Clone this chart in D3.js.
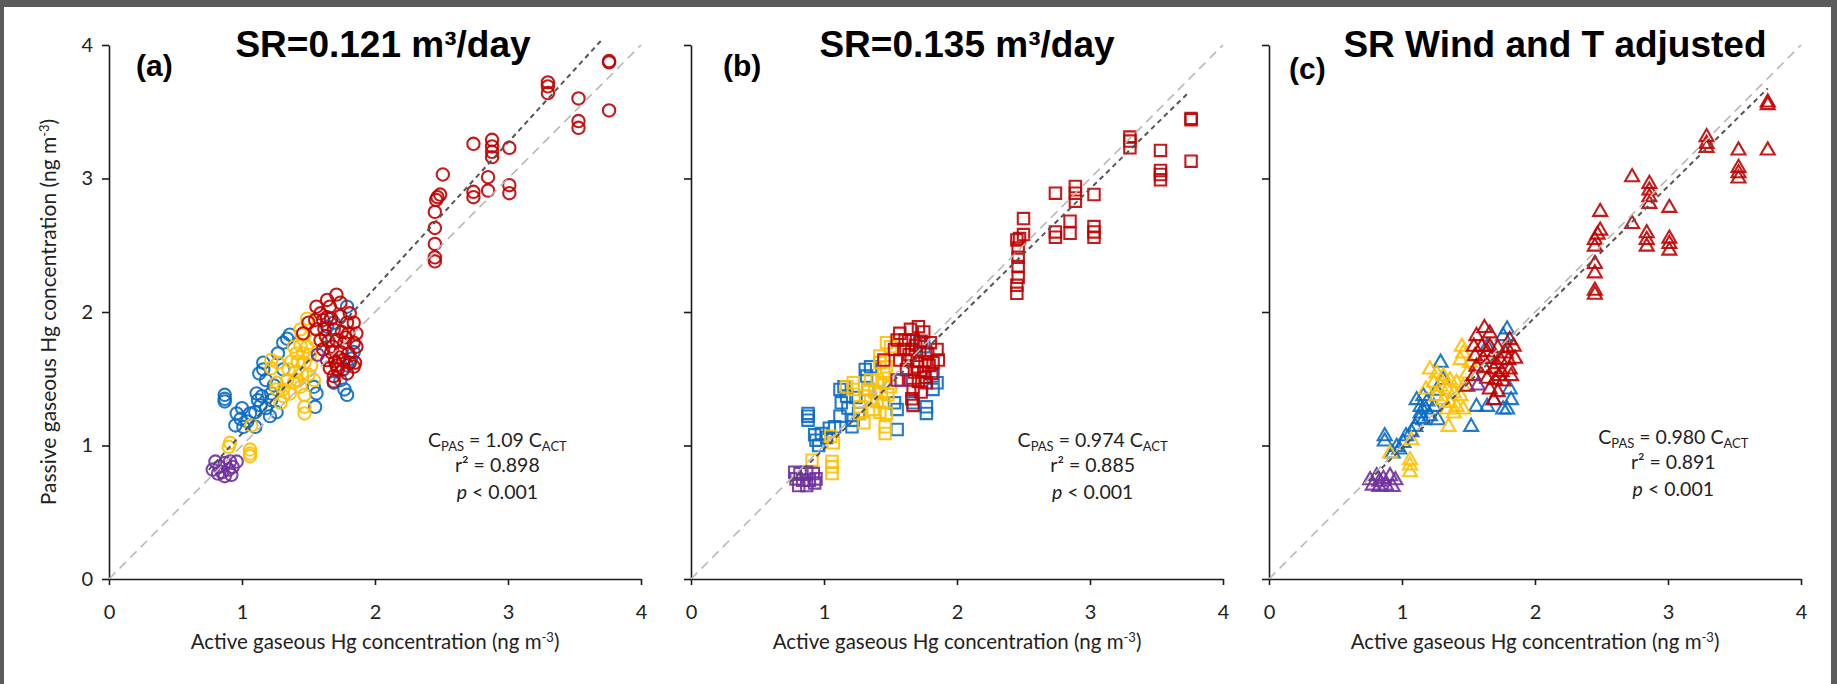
<!DOCTYPE html>
<head>
    <meta charset='utf-8'>
    <style>
        body {
            margin: 0;
            background: #5b5b5b;
        }
        svg { display: block; }
        .axis path, .axis line {
            stroke: #1a1a1a;
            stroke-width: 1.6px;
        }
        .axis text {
            font-family: Lato, sans-serif;
            font-size: 20px;
            fill: #222;
        }
        .ax-title, .note {
            font-family: Lato, sans-serif;
            fill: #222;
        }
        .ax-title { font-size: 20.5px; }
        .note { font-size: 19.5px; }
        .title, .label {
            font-family: 'Liberation Sans', Arial, sans-serif;
            font-weight: bold;
            fill: #000;
        }
        .title { font-size: 37px; }
        .label { font-size: 30px; }
    </style>
</head>

<body>
<div id='vis'></div>
<script src='https://cdn.jsdelivr.net/npm/d3@7/dist/d3.min.js'></script>
<script>
  const tickVals = [0, 1, 2, 3, 4]
  const panelLabels = ['(a)', '(b)', '(c)']
  const panelTitles = ['SR=0.121 m³/day', 'SR=0.135 m³/day', 'SR Wind and T adjusted']
  const fitSlopes = [1.09, 0.974, 0.980]
  const fitFrom = [0.75, 0.75, 0.75]
  const fitTo = [3.70, 3.74, 3.75]
  const slopeText = ['1.09', '0.974', '0.980']
  const r2Text = ['0.898', '0.885', '0.891']
  const pText = '0.001'
  const xTitle = 'Active gaseous Hg concentration (ng m'
  const yTitle = 'Passive gaseous Hg concentration (ng m'

  // panel (a), SR = 0.121
  const aBlue = [[0.87,1.38],[0.87,1.35],[0.87,1.33],[0.96,1.24],[1.00,1.28],[0.99,1.20],[0.95,1.15],[1.01,1.14],
    [1.06,1.24],[1.10,1.25],[1.12,1.34],[1.11,1.39],[1.15,1.37],[1.16,1.62],[1.16,1.57],[1.22,1.39],[1.22,1.34],
    [1.18,1.28],[1.10,1.14],[1.27,1.69],[1.31,1.77],[1.34,1.80],[1.36,1.83],[1.31,1.57],[1.18,1.49],[1.13,1.54],
    [1.54,1.44],[1.56,1.39],[1.55,1.29],[1.77,1.42],[1.79,1.38],[1.69,1.47],[1.74,1.49],[1.79,1.60],[1.84,1.70],
    [1.79,2.04],[1.69,1.92],[1.64,1.89],[1.82,1.65],[1.26,1.25],[1.21,1.22],[1.04,1.18],[1.14,1.30],[1.24,1.45]]
  const aYellow = [[0.91,1.02],[0.90,0.99],[1.06,0.97],[1.06,0.92],[1.06,0.94],[1.07,1.15],[1.22,1.64],[1.22,1.58],
    [1.27,1.62],[1.26,1.47],[1.26,1.42],[1.29,1.32],[1.31,1.37],[1.47,1.38],[1.47,1.29],[1.47,1.24],[1.49,1.95],
    [1.45,1.83],[1.39,1.74],[1.44,1.75],[1.49,1.74],[1.41,1.69],[1.46,1.69],[1.51,1.68],[1.37,1.63],[1.42,1.63],
    [1.47,1.62],[1.52,1.60],[1.35,1.57],[1.40,1.55],[1.45,1.54],[1.50,1.53],[1.34,1.49],[1.39,1.47],[1.44,1.44],
    [1.31,1.42],[1.36,1.39],[1.41,1.49],[1.54,1.49],[1.44,1.87],[1.55,1.79]]
  const aRed = [[1.71,2.13],[1.64,2.09],[1.56,2.04],[1.59,1.99],[1.66,2.04],[1.74,2.07],[1.81,1.99],[1.84,1.92],
    [1.86,1.84],[1.84,1.77],[1.81,1.62],[1.76,1.57],[1.69,1.52],[1.69,1.48],[1.46,1.84],[1.50,1.92],[1.55,1.94],
    [1.61,1.94],[1.67,1.95],[1.74,1.97],[1.79,1.92],[1.56,1.87],[1.62,1.87],[1.69,1.87],[1.75,1.85],[1.80,1.84],
    [1.59,1.79],[1.65,1.78],[1.71,1.79],[1.77,1.77],[1.61,1.72],[1.67,1.70],[1.74,1.70],[1.80,1.69],[1.64,1.64],
    [1.70,1.63],[1.76,1.64],[1.66,1.58],[1.72,1.57],[1.79,1.54],[1.84,1.59],[1.86,1.74],[1.85,1.62],
    [1.63,1.82],[1.68,1.74],[1.73,1.66],[1.78,1.81],[1.64,1.96],[1.71,1.60],
    [2.45,2.38],[2.45,2.41],[2.45,2.51],[2.45,2.63],[2.45,2.75],[2.46,2.84],[2.47,2.86],[2.49,2.88],[2.51,3.03],
    [2.74,2.86],[2.74,2.90],[2.74,3.26],[2.85,2.91],[2.85,3.01],[2.88,3.16],[2.88,3.20],[2.88,3.24],[2.88,3.29],
    [3.01,2.89],[3.01,2.95],[3.01,3.23],[3.30,3.64],[3.30,3.69],[3.30,3.72],[3.53,3.38],[3.53,3.43],[3.53,3.60],
    [3.76,3.51],[3.76,3.87],[3.76,3.88]]
  const aPurple = [[0.80,0.88],[0.83,0.84],[0.87,0.87],[0.91,0.88],[0.93,0.84],[0.82,0.79],[0.87,0.77],[0.92,0.78],
    [0.78,0.82],[0.90,0.82],[0.85,0.80],[0.96,0.88],[1.57,1.68]]

  // panel (b), SR = 0.135
  const bBlue = [[0.88,1.24],[0.88,1.22],[0.88,1.19],[0.94,1.04],[0.96,1.00],[0.98,1.09],[0.93,1.08],[1.04,1.13],
    [1.08,1.14],[1.13,1.32],[1.15,1.44],[1.12,1.22],[1.21,1.14],[1.26,1.24],[1.31,1.57],[1.32,1.52],[1.33,1.42],
    [1.17,1.37],[1.22,1.19],[1.53,1.32],[1.55,1.27],[1.55,1.12],[1.67,1.32],[1.77,1.29],[1.77,1.24],[1.82,1.42],
    [1.82,1.52],[1.85,1.47],[1.75,1.74],[1.72,1.77],[1.35,1.59],[1.12,1.42],[1.02,1.06],[1.18,1.28],[1.24,1.36]]
  const bYellow = [[0.91,0.89],[1.06,0.88],[1.06,0.84],[1.06,0.79],[1.07,1.02],[1.05,1.07],[1.22,1.47],[1.22,1.42],
    [1.27,1.29],[1.30,1.17],[1.42,1.62],[1.45,1.54],[1.47,1.77],[1.50,1.74],[1.46,1.09],[1.46,1.14],[1.35,1.49],
    [1.40,1.49],[1.45,1.47],[1.50,1.44],[1.33,1.42],[1.38,1.40],[1.43,1.39],[1.48,1.38],[1.35,1.34],[1.40,1.33],
    [1.45,1.32],[1.37,1.27],[1.42,1.25],[1.47,1.24],[1.31,1.37],[1.27,1.24],[1.42,1.67],[1.47,1.59],[1.17,1.44]]
  const bRed = [[1.71,1.89],[1.57,1.84],[1.65,1.87],[1.75,1.85],[1.45,1.64],[1.67,1.30],[1.55,1.79],[1.61,1.79],
    [1.67,1.79],[1.73,1.78],[1.80,1.77],[1.85,1.72],[1.53,1.72],[1.60,1.72],[1.66,1.72],[1.72,1.70],[1.78,1.69],
    [1.57,1.64],[1.63,1.64],[1.70,1.63],[1.76,1.63],[1.82,1.62],[1.62,1.57],[1.68,1.55],[1.75,1.55],[1.81,1.54],
    [1.65,1.49],[1.71,1.48],[1.77,1.47],[1.67,1.42],[1.73,1.40],[1.66,1.35],[1.55,1.49],[1.86,1.64],
    [1.64,1.68],[1.70,1.59],[1.76,1.51],[1.69,1.75],[1.79,1.60],
    [2.45,2.14],[2.45,2.20],[2.46,2.26],[2.46,2.34],[2.46,2.41],[2.46,2.48],[2.45,2.54],[2.47,2.55],[2.50,2.58],
    [2.50,2.70],[2.74,2.56],[2.74,2.60],[2.74,2.89],[2.85,2.59],[2.85,2.68],[2.89,2.83],[2.89,2.89],[2.89,2.94],
    [3.03,2.56],[3.03,2.60],[3.03,2.64],[3.03,2.88],[3.30,3.23],[3.30,3.28],[3.30,3.31],[3.53,2.99],[3.53,3.03],
    [3.53,3.06],[3.53,3.21],[3.76,3.13],[3.76,3.44],[3.76,3.45]]
  const bPurple = [[0.78,0.80],[0.82,0.79],[0.87,0.80],[0.92,0.79],[0.79,0.75],[0.84,0.74],[0.89,0.74],[0.94,0.75],
    [0.81,0.70],[0.87,0.70],[0.93,0.72],[1.58,1.49]]

  // panel (c), wind and temperature adjusted SR
  const cBlue = [[0.87,1.07],[0.87,1.03],[0.93,0.94],[0.96,0.99],[1.01,1.02],[1.03,1.07],[1.10,1.14],[1.14,1.24],
    [1.16,1.37],[1.29,1.62],[1.52,1.14],[1.76,1.82],[1.76,1.27],[1.79,1.27],[1.81,1.42],[1.11,1.34],[1.14,1.29],
    [1.18,1.27],[1.21,1.22],[1.16,1.19],[1.24,1.29],[1.27,1.19],[1.07,1.10],[0.98,0.97],[1.31,1.49],[1.56,1.29],
    [1.64,1.29],[1.69,1.34],[1.82,1.34],[1.79,1.87],[1.64,1.74],[1.19,1.33],[1.13,1.20],[1.26,1.41]]
  const cYellow = [[0.91,0.94],[1.06,0.89],[1.06,0.85],[1.06,0.80],[1.07,1.04],[1.35,1.14],[1.44,1.64],[1.46,1.69],
    [1.21,1.57],[1.26,1.54],[1.31,1.52],[1.36,1.49],[1.41,1.47],[1.46,1.44],[1.24,1.47],[1.29,1.44],[1.34,1.42],
    [1.39,1.39],[1.44,1.37],[1.26,1.37],[1.31,1.34],[1.36,1.32],[1.41,1.29],[1.46,1.27],[1.34,1.27],[1.39,1.24],
    [1.49,1.54],[1.51,1.62],[1.45,1.74],[1.18,1.42]]
  const cRed = [[1.62,1.88],[1.49,1.44],[1.56,1.82],[1.66,1.84],[1.81,1.79],[1.54,1.74],[1.60,1.74],[1.66,1.74],
    [1.72,1.73],[1.79,1.73],[1.84,1.74],[1.55,1.67],[1.61,1.65],[1.67,1.65],[1.74,1.64],[1.80,1.64],[1.85,1.65],
    [1.56,1.59],[1.62,1.58],[1.69,1.57],[1.75,1.55],[1.81,1.57],[1.64,1.50],[1.70,1.49],[1.76,1.48],[1.66,1.42],
    [1.72,1.40],[1.69,1.34],[1.82,1.52],[1.54,1.52],[1.64,1.70],[1.71,1.61],[1.78,1.69],[1.73,1.52],
    [2.45,2.13],[2.45,2.16],[2.45,2.29],[2.45,2.36],[2.45,2.49],[2.45,2.54],[2.47,2.58],[2.49,2.61],[2.49,2.75],
    [2.73,2.66],[2.73,3.01],[2.84,2.49],[2.84,2.54],[2.84,2.59],[2.86,2.81],[2.86,2.86],[2.86,2.91],[2.86,2.96],
    [3.01,2.46],[3.01,2.51],[3.01,2.55],[3.01,2.78],[3.29,3.23],[3.29,3.26],[3.29,3.31],[3.53,3.00],[3.53,3.04],
    [3.53,3.08],[3.53,3.21],[3.75,3.21],[3.75,3.55],[3.75,3.57]]
  const cPurple = [[0.76,0.74],[0.81,0.77],[0.86,0.75],[0.91,0.77],[0.95,0.74],[0.78,0.70],[0.83,0.69],[0.88,0.70],
    [0.93,0.69],[0.83,0.73],[1.57,1.45]]

  const seriesColors = {blue: '#0a6cc4', yellow: '#ffc000', red: '#c00000', purple: '#7030a0'}

  const panels = [
    {blue: aBlue, yellow: aYellow, red: aRed, purple: aPurple},
    {blue: bBlue, yellow: bYellow, red: bRed, purple: bPurple},
    {blue: cBlue, yellow: cYellow, red: cRed, purple: cPurple},
  ]

  // layout
  const W = 1837, H = 684
  const left = [109, 691, 1269]
  const plotW = 532, plotTop = 45, plotBottom = 579
  const symbols = [
    d3.symbol().type(d3.symbolCircle).size(120),
    d3.symbol().type(d3.symbolSquare).size(130),
    d3.symbol().type(d3.symbolTriangle).size(85),
  ]
  const titleX = [383, 967, 1555]
  const labelDx = [27, 32, 20]
  const labelY = [76, 76, 79]
  const noteX = [2.92, 3.02, 3.04]
  const noteShift = [0, 0, -3]

  const svg = d3.select('#vis')
    .append('svg')
    .attr('width', W)
    .attr('height', H)

  svg.append('rect')
    .attr('x', 4).attr('y', 7)
    .attr('width', 1827).attr('height', H - 7)
    .attr('fill', '#fff')

  panels.forEach((series, i) => {
    const x = d3.scaleLinear().domain([0, 4]).range([left[i], left[i] + plotW])
    const y = d3.scaleLinear().domain([0, 4]).range([plotBottom, plotTop])
    const g = svg.append('g').attr('class', 'panel')

    // axes
    const yAxis = d3.axisLeft(y).tickValues(tickVals).tickSize(7).tickPadding(9).tickSizeOuter(0)
      .tickFormat(i > 0 ? '' : d3.format('d'))
    g.append('g')
      .attr('class', 'axis')
      .attr('transform', `translate(${left[i]},0)`)
      .call(yAxis)

    g.append('g')
      .attr('class', 'axis')
      .attr('transform', `translate(0,${plotBottom})`)
      .call(d3.axisBottom(x).tickValues(tickVals).tickSize(6).tickPadding(20).tickSizeOuter(0)
        .tickFormat(d3.format('d')))

    // points
    Object.keys(seriesColors).forEach(k => {
      g.append('g')
        .selectAll('path')
        .data(series[k])
        .enter()
        .append('path')
        .attr('d', symbols[i])
        .attr('transform', d => `translate(${x(d[0])},${y(d[1])})`)
        .attr('fill', 'none')
        .attr('stroke', seriesColors[k])
        .attr('stroke-width', 2.1)
        .attr('stroke-opacity', 0.9)
    })

    // 1:1 line and fit
    g.append('line')
      .attr('x1', x(0)).attr('y1', y(0))
      .attr('x2', x(4)).attr('y2', y(4))
      .attr('stroke', '#b8b8b8')
      .attr('stroke-width', 1.6)
      .attr('stroke-dasharray', '9,6')

    g.append('line')
      .attr('x1', x(fitFrom[i])).attr('y1', y(fitFrom[i] * fitSlopes[i]))
      .attr('x2', x(fitTo[i])).attr('y2', y(fitTo[i] * fitSlopes[i]))
      .attr('stroke', '#555')
      .attr('stroke-width', 2)
      .attr('stroke-dasharray', '5,4')

    // titles
    g.append('text')
      .attr('class', 'title')
      .attr('x', titleX[i]).attr('y', 57)
      .attr('text-anchor', 'middle')
      .text(panelTitles[i])

    g.append('text')
      .attr('class', 'label')
      .attr('x', left[i] + labelDx[i]).attr('y', labelY[i])
      .text(panelLabels[i])

    // x title
    const xt = g.append('text')
      .attr('class', 'ax-title')
      .attr('x', x(2)).attr('y', 649)
      .attr('text-anchor', 'middle')
    xt.append('tspan').text(xTitle)
    xt.append('tspan').attr('dy', -7).attr('font-size', 13).text('-3')
    xt.append('tspan').attr('dy', 7).text(')')

    if (i === 0) {
      const yt = g.append('text')
        .attr('class', 'ax-title')
        .style('font-size', '21px')
        .attr('transform', `translate(56,${y(2)}) rotate(-90)`)
        .attr('text-anchor', 'middle')
      yt.append('tspan').text(yTitle)
      yt.append('tspan').attr('dy', -7).attr('font-size', 13).text('-3')
      yt.append('tspan').attr('dy', 7).text(')')
    }

    // regression note
    const nx = x(noteX[i])
    const n1 = g.append('text').attr('class', 'note')
      .attr('x', nx).attr('y', y(1) + 1 + noteShift[i]).attr('text-anchor', 'middle')
    n1.append('tspan').text('C')
    n1.append('tspan').attr('font-size', 13).attr('dy', 4).text('PAS')
    n1.append('tspan').attr('dy', -4).text(` = ${slopeText[i]} C`)
    n1.append('tspan').attr('font-size', 13).attr('dy', 4).text('ACT')

    g.append('text').attr('class', 'note')
      .attr('x', nx).attr('y', y(0.8) + noteShift[i]).attr('text-anchor', 'middle')
      .text(`r² = ${r2Text[i]}`)

    const n3 = g.append('text').attr('class', 'note')
      .attr('x', nx).attr('y', y(0.6) + noteShift[i]).attr('text-anchor', 'middle')
    n3.append('tspan').attr('font-style', 'italic').text('p')
    n3.append('tspan').text(` < ${pText}`)
  })
</script>
</body>
